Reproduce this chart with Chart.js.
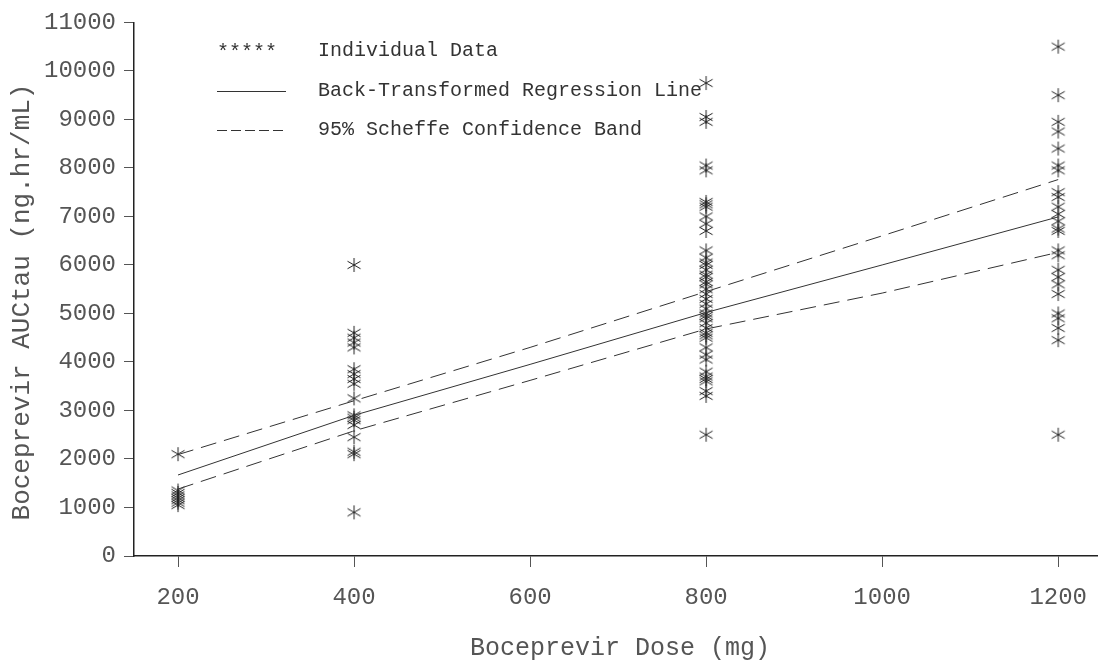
<!DOCTYPE html>
<html><head><meta charset="utf-8">
<script src="https://cdn.jsdelivr.net/npm/chart.js@4.4.0/dist/chart.umd.min.js"></script>
<style>html,body{margin:0;padding:0;background:#fff;overflow:hidden}</style>
</head><body>
<canvas id="c" width="1103" height="665"></canvas>
<script>
// ---- data ----
const xTicks = [200, 400, 600, 800, 1000, 1200];
const yTicks = [0, 1000, 2000, 3000, 4000, 5000, 6000, 7000, 8000, 9000, 10000, 11000];
const xTitle = 'Boceprevir Dose (mg)';
const yTitle = 'Boceprevir AUCtau (ng.hr/mL)';
const legendLabels = ['Individual Data', 'Back-Transformed Regression Line', '95% Scheffe Confidence Band'];

const doseGroups = [200, 400, 800, 1200];
const auc200 = [2100, 1350, 1300, 1250, 1200, 1150, 1100, 1050];
const auc400 = [6000, 4600, 4500, 4400, 4300, 3850, 3750, 3650, 3550, 3250, 2900, 2850, 2800, 2700, 2450, 2150, 2100, 900];
const auc800 = [9750, 9050, 8950, 8050, 7950, 7300, 7250, 7200, 7000, 6850, 6700, 6300, 6150, 6050, 6000, 5900, 5800, 5750, 5650, 5600, 5500, 5400, 5300, 5200, 5100, 5000, 4950, 4900, 4800, 4700, 4600, 4550, 4500, 4300, 4150, 4050, 3800, 3700, 3650, 3600, 3400, 3300, 2500];
const auc1200 = [10500, 9500, 8950, 8750, 8400, 8050, 7950, 7500, 7400, 7200, 7050, 6900, 6750, 6700, 6300, 6200, 5900, 5750, 5600, 5400, 5000, 4900, 4700, 4450, 2500];

const lineDoses = [200, 400, 600, 800, 1000, 1200];
const regression = [1670, 2900, 3950, 5020, 6000, 6990];
const upperBand = [2090, 3200, 4300, 5450, 6600, 7760];
const lowerBand = [1380, 2580, 3620, 4680, 5420, 6260];

// ---- build ----
const groups = [auc200, auc400, auc800, auc1200];
const individual = [];
groups.forEach((arr, i) => arr.forEach(v => individual.push({x: doseGroups[i], y: v})));
const toXY = arr => arr.map((v, i) => ({x: lineDoses[i], y: v}));

function makeStar() {
  const c = document.createElement('canvas');
  c.width = 16; c.height = 16;
  const g = c.getContext('2d');
  g.strokeStyle = '#222'; g.lineWidth = 1;
  const cx = 8, cy = 8;
  g.beginPath();
  g.moveTo(cx, cy - 7); g.lineTo(cx, cy + 7);
  g.moveTo(cx - 6.5, cy - 3.75); g.lineTo(cx + 6.5, cy + 3.75);
  g.moveTo(cx - 6.5, cy + 3.75); g.lineTo(cx + 6.5, cy - 3.75);
  g.stroke();
  return c;
}
const star = makeStar();
const FONT = '"Liberation Mono", "Courier New", monospace';

const decor = {
  id: 'decor',
  afterDraw(chart) {
    const ctx = chart.ctx, a = chart.chartArea;
    ctx.save();
    ctx.fillStyle = '#555';
    ctx.textAlign = 'center'; ctx.textBaseline = 'middle';
    ctx.font = '25px ' + FONT;
    ctx.fillText(xTitle, 620, 648);
    ctx.font = '26px ' + FONT;
    ctx.translate(22, 302);
    ctx.rotate(-Math.PI / 2);
    ctx.fillText(yTitle, 0, 0);
    ctx.restore();

    // legend
    ctx.save();
    ctx.font = '20px ' + FONT;
    ctx.fillStyle = '#333';
    ctx.textAlign = 'left'; ctx.textBaseline = 'middle';
    const rows = [51, 91, 130];
    ctx.fillText('*****', 217, rows[0] + 2);
    ctx.strokeStyle = '#333'; ctx.lineWidth = 1;
    ctx.beginPath(); ctx.moveTo(217, rows[1] + 0.5); ctx.lineTo(286, rows[1] + 0.5); ctx.stroke();
    ctx.setLineDash([10, 4]);
    ctx.beginPath(); ctx.moveTo(217, rows[2] + 0.5); ctx.lineTo(286, rows[2] + 0.5); ctx.stroke();
    ctx.setLineDash([]);
    legendLabels.forEach((t, i) => ctx.fillText(t, 318, rows[i]));
    ctx.restore();
  }
};

new Chart(document.getElementById('c'), {
  type: 'scatter',
  data: {
    datasets: [
      {label: legendLabels[0], data: individual, pointStyle: star, pointRadius: 7, showLine: false, order: 2},
      {label: legendLabels[1], data: toXY(regression), showLine: true, pointRadius: 0, borderColor: '#333', borderWidth: 1, order: 1},
      {label: legendLabels[2], data: toXY(upperBand), showLine: true, pointRadius: 0, borderColor: '#333', borderWidth: 1, borderDash: [16, 8], order: 1},
      {label: legendLabels[2], data: toXY(lowerBand), showLine: true, pointRadius: 0, borderColor: '#333', borderWidth: 1, borderDash: [16, 8], order: 1}
    ]
  },
  options: {
    responsive: false,
    animation: false,
    layout: {autoPadding: false, padding: {top: 15, right: 0, left: 0, bottom: 0}},
    plugins: {legend: {display: false}, tooltip: {enabled: false}},
    scales: {
      x: {
        type: 'linear', min: 150, max: 1245,
        afterBuildTicks: s => { s.ticks = xTicks.map(v => ({value: v})); },
        afterFit: s => { s.height = 109; },
        border: {color: '#222', width: 1.5},
        grid: {drawOnChartArea: false, tickLength: 11, color: '#555', tickWidth: 1},
        ticks: {font: {family: FONT, size: 24}, color: '#555', padding: 16, maxRotation: 0, autoSkip: false,
                callback: v => String(v)}
      },
      y: {
        type: 'linear', min: 0, max: 11000,
        afterBuildTicks: s => { s.ticks = yTicks.map(v => ({value: v})); },
        afterFit: s => { s.width = 134; },
        border: {color: '#222', width: 1.5},
        grid: {drawOnChartArea: false, tickLength: 10, color: '#555', tickWidth: 1},
        ticks: {font: {family: FONT, size: 24}, color: '#555', padding: 8, autoSkip: false,
                callback: v => String(v)}
      }
    }
  },
  plugins: [decor]
});
</script>
</body></html>
